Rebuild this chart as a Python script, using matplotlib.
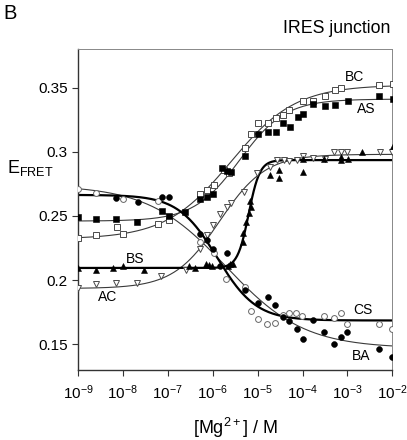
"""
IRES junction: E_FRET versus Mg2+ concentration for six donor/acceptor pairs.
Output: out.png
"""
import numpy as np
import matplotlib
matplotlib.use("Agg")
import matplotlib.pyplot as plt
from matplotlib.ticker import FixedLocator, NullLocator

plt.rcParams["font.family"] = ["Liberation Sans", "DejaVu Sans"]
plt.rcParams["mathtext.fontset"] = "custom"
plt.rcParams["mathtext.rm"] = "Liberation Sans"
plt.rcParams["mathtext.it"] = "Liberation Sans:italic"
plt.rcParams["mathtext.default"] = "regular"

# ── data (log10 [Mg2+] / M, E_FRET) ────────────────────────────────────────────
BC_LOGMG = [-9.00, -8.59, -8.13, -8.00, -7.21, -6.98, -6.29, -6.12, -5.98, -5.74,
            -5.63, -5.29, -5.14, -4.99, -4.76, -4.59, -4.44, -4.30, -3.99, -3.77,
            -3.50, -3.27, -3.15, -2.29, -1.99]
BC = [0.2328, 0.2348, 0.2413, 0.2359, 0.2439, 0.2470, 0.2669, 0.2703, 0.2741, 0.2858,
      0.2835, 0.3033, 0.3137, 0.3225, 0.3225, 0.3266, 0.3285, 0.3328, 0.3396, 0.3396,
      0.3435, 0.3479, 0.3497, 0.3518, 0.3526]

AS_LOGMG = [-9.00, -8.59, -8.15, -7.69, -7.13, -6.98, -6.61, -6.29, -6.12, -6.00,
            -5.80, -5.68, -5.60, -5.29, -4.99, -4.76, -4.59, -4.44, -4.29, -4.10,
            -3.99, -3.76, -3.49, -3.27, -2.98, -2.29, -1.98]
AS = [0.2491, 0.2478, 0.2480, 0.2449, 0.2540, 0.2503, 0.2534, 0.2630, 0.2651, 0.2670,
      0.2871, 0.2852, 0.2845, 0.2967, 0.3135, 0.3157, 0.3157, 0.3220, 0.3192, 0.3272,
      0.3293, 0.3370, 0.3355, 0.3363, 0.3394, 0.3432, 0.3409]

BS_LOGMG = [-9.00, -8.59, -8.22, -7.99, -7.52, -6.52, -6.39, -6.15, -6.08, -6.02,
            -5.66, -5.61, -5.54, -5.33, -5.32, -5.26, -5.20, -5.17, -5.14, -4.72,
            -4.53, -4.53, -4.00, -4.00, -3.52, -3.14, -3.14, -2.99, -2.67, -1.99]
BS = [0.2097, 0.2076, 0.2095, 0.2113, 0.2076, 0.2107, 0.2092, 0.2126, 0.2116, 0.2113,
      0.2113, 0.2124, 0.2126, 0.2301, 0.2367, 0.2449, 0.2526, 0.2613, 0.2573, 0.2819,
      0.2858, 0.2793, 0.2840, 0.2941, 0.2941, 0.2957, 0.2936, 0.2943, 0.3000, 0.3044]

AC_LOGMG = [-9.00, -8.60, -8.15, -7.69, -7.15, -6.59, -6.29, -6.12, -6.00, -5.83,
            -5.69, -5.60, -5.30, -5.01, -4.72, -4.57, -4.41, -4.30, -4.13, -3.98,
            -3.76, -3.51, -3.29, -3.14, -3.00, -2.27, -2.00]
AC = [0.1939, 0.1969, 0.1977, 0.1981, 0.2031, 0.2076, 0.2243, 0.2353, 0.2427, 0.2512,
      0.2571, 0.2602, 0.2689, 0.2837, 0.2884, 0.2932, 0.2936, 0.2928, 0.2936, 0.2967,
      0.2949, 0.2943, 0.2995, 0.2995, 0.2995, 0.2995, 0.3000]

CS_LOGMG = [-9.00, -8.59, -7.99, -7.22, -6.28, -5.98, -5.70, -5.29, -5.15, -5.00,
            -4.78, -4.61, -4.44, -4.30, -4.14, -4.01, -3.52, -3.30, -3.15, -3.00,
            -2.30, -2.00]
CS = [0.2708, 0.2682, 0.2635, 0.2615, 0.2301, 0.2211, 0.2012, 0.1943, 0.1758, 0.1699,
      0.1658, 0.1666, 0.1732, 0.1745, 0.1745, 0.1724, 0.1722, 0.1707, 0.1742, 0.1662,
      0.1662, 0.1621]

BA_LOGMG = [-8.15, -7.67, -7.13, -6.98, -6.29, -6.13, -6.00, -5.83, -5.69, -5.29,
            -5.00, -4.77, -4.61, -4.44, -4.30, -4.13, -4.00, -3.77, -3.52, -3.30,
            -3.15, -3.00, -2.30, -2.00]
BA = [0.2638, 0.2607, 0.2646, 0.2646, 0.2359, 0.2311, 0.2243, 0.2107, 0.2214, 0.1921,
      0.1825, 0.1872, 0.1810, 0.1713, 0.1683, 0.1623, 0.1543, 0.1688, 0.1600, 0.1499,
      0.1559, 0.1596, 0.1467, 0.1402]

# Hill fit parameters: (E start, E end, log10 K, Hill n)
FIT_BC = (0.232, 0.352, -5.60, 0.60)
FIT_AS = (0.246, 0.341, -5.40, 0.85)
FIT_BS = (0.2095, 0.2935, -5.20, 3.5)
FIT_AC = (0.1935, 0.298, -5.85, 0.85)
FIT_CS = (0.2664, 0.1686, -5.90, 1.00)
FIT_BA = (0.274, 0.147, -5.70, 0.50)

Y_TICKS = [0.15, 0.2, 0.25, 0.3, 0.35]
Y_TICKLABELS = ["0.15", "0.2", "0.25", "0.3", "0.35"]
X_TICK_EXP = [-9, -8, -7, -6, -5, -4, -3, -2]


def hill(lx, p):
    e0, e1, lk, n = p
    return e0 + (e1 - e0) / (1.0 + 10.0 ** (n * (lk - lx)))


OPEN_EDGE = "#4a4a4a"
THIN = "#3a3a3a"

fig = plt.figure(figsize=(4.07, 4.40), dpi=100)
ax = fig.add_axes([0.1916, 0.159, 0.7724, 0.7296])

# ── fit curves ──
lx = np.linspace(-9, -2, 400)
for p, lw, col in [(FIT_BC, 0.8, THIN), (FIT_AS, 0.8, THIN), (FIT_AC, 0.8, THIN),
                   (FIT_BA, 0.8, THIN), (FIT_BS, 1.6, "black"), (FIT_CS, 1.6, "black")]:
    ax.plot(10.0 ** lx, hill(lx, p), color=col, linewidth=lw, zorder=2)

# ── data points ──
def pts(logs, vals, marker, filled, ms=4.2, edge=OPEN_EDGE):
    x = 10.0 ** np.array(logs)
    if filled:
        ax.plot(x, vals, linestyle="none", marker=marker, markersize=ms,
                markerfacecolor="black", markeredgecolor="black",
                markeredgewidth=0.4, zorder=3)
    else:
        ax.plot(x, vals, linestyle="none", marker=marker, markersize=ms,
                markerfacecolor="white", markeredgecolor=edge,
                markeredgewidth=0.7, zorder=3)

pts(BC_LOGMG, BC, "s", False)
pts(AS_LOGMG, AS, "s", True)
pts(AC_LOGMG, AC, "v", False, ms=4.6)
pts(BS_LOGMG, BS, "^", True, ms=4.4)
pts(CS_LOGMG, CS, "o", False, edge="#666666")
pts(BA_LOGMG, BA, "o", True)

# ── curve labels ──
for txt, lxp, yv in [("BC", -2.85, 0.358), ("AS", -2.58, 0.3331), ("BS", -7.72, 0.2167),
                     ("AC", -8.33, 0.1872), ("CS", -2.65, 0.1771), ("BA", -2.70, 0.1406)]:
    ax.text(10.0 ** lxp, yv, txt, fontsize=10, ha="center", va="center")

# ── axes ──
ax.set_xscale("log")
ax.set_xlim(1e-9, 1e-2)
ax.set_ylim(0.13, 0.38)
ax.xaxis.set_major_locator(FixedLocator([10.0 ** e for e in X_TICK_EXP]))
ax.xaxis.set_minor_locator(NullLocator())
ax.set_xticklabels([r"$10^{%d}$" % e for e in X_TICK_EXP])
ax.set_yticks(Y_TICKS)
ax.set_yticklabels(Y_TICKLABELS)
ax.tick_params(axis="both", direction="out", length=4.5, width=0.8,
               labelsize=11, color="#333333")
ax.tick_params(axis="x", pad=5)
ax.tick_params(axis="y", pad=3)

for side in ("left", "bottom"):
    ax.spines[side].set_linewidth(1.0)
    ax.spines[side].set_color("#333333")
for side in ("top", "right"):
    ax.spines[side].set_linewidth(0.7)
    ax.spines[side].set_color("#888888")

ax.set_xlabel(r"[Mg$^{2+}$] / M", fontsize=13, labelpad=10)
fig.text(0.017, 0.607, r"E$_{\mathrm{FRET}}$", fontsize=13, ha="left", va="baseline")

fig.text(0.958, 0.926, "IRES junction", fontsize=12.8, ha="right", va="baseline")
fig.text(0.008, 0.99, "B", fontsize=14.5, ha="left", va="top")

fig.savefig("out.png", dpi=100, facecolor="white")
